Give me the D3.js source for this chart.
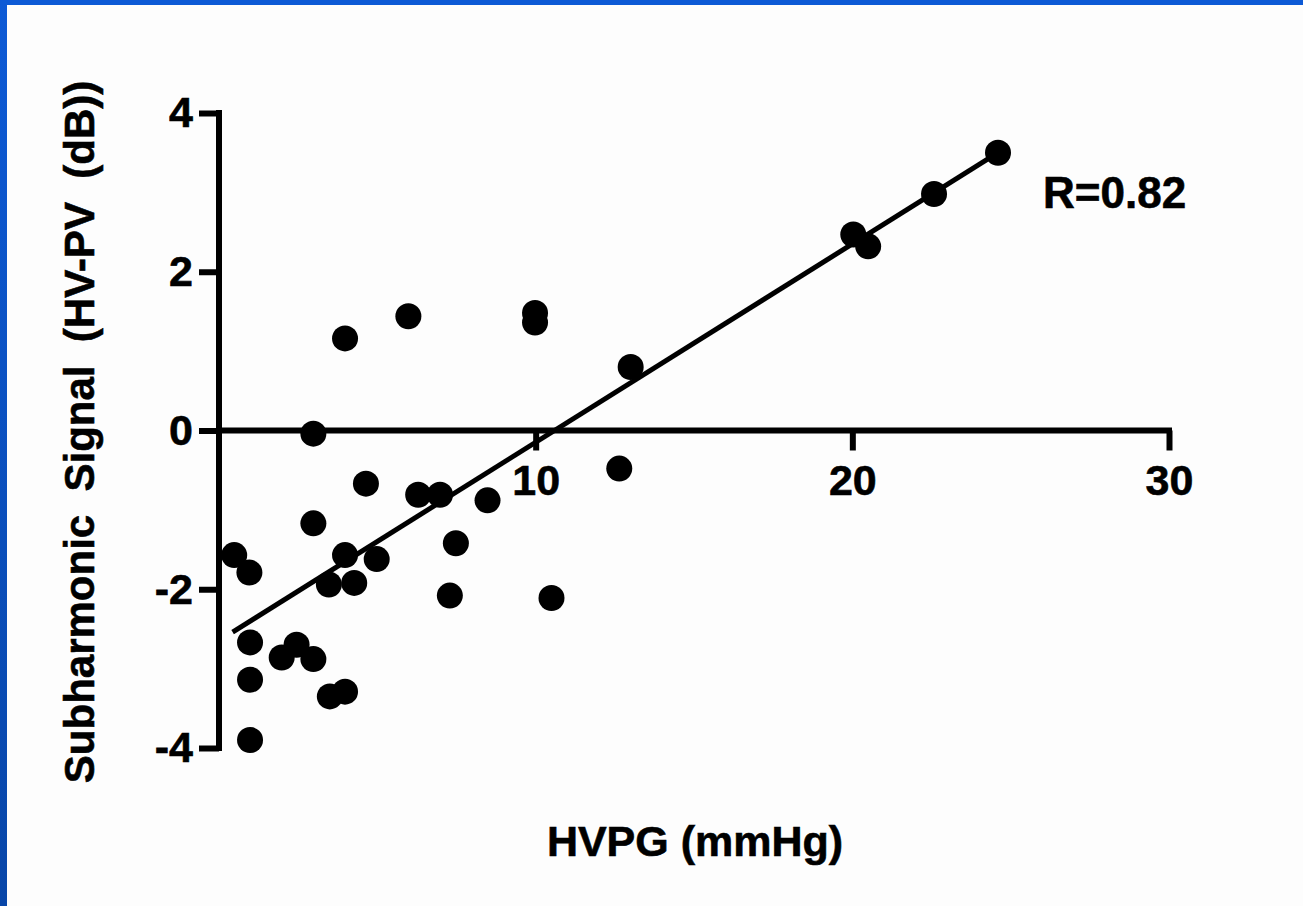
<!DOCTYPE html>
<html>
<head>
<meta charset="utf-8">
<script src="https://cdn.jsdelivr.net/npm/d3@7"></script>
<style>
  html, body { margin: 0; padding: 0; background: #fdfdfd; overflow: hidden; }
  svg { display: block; }
  text { font-family: "Liberation Sans", Arial, sans-serif; font-weight: bold; fill: #000; }
</style>
</head>
<body>
<svg id="chart" width="1303" height="906"></svg>
<script>
// ---- data ----
const hvpg = [0.48, 0.96, 0.98, 0.98, 0.98, 1.98, 2.45, 2.98, 2.98, 3.47, 3.5, 3.98, 3.98, 4.27, 4.64, 4.98,
              6.29, 6.98, 7.29, 7.48, 8.48, 10.5, 2.98, 3.98, 5.98, 9.98, 9.98, 13.0, 12.64, 24.6, 22.58, 20.03, 20.5];
const signal = [-1.57, -1.79, -2.67, -3.14, -3.90, -2.86, -2.70, -2.88, -1.17, -1.94, -3.35, -3.29, -1.57, -1.92, -0.67, -1.62,
                -0.81, -0.81, -2.08, -1.42, -0.88, -2.11, -0.04, 1.16, 1.44, 1.48, 1.36, 0.80, -0.48, 3.50, 2.98, 2.47, 2.32];
const fitX = [0.43, 24.6];
const fitY = [-2.54, 3.50];
const xTicks = [10, 20, 30];
const yTicks = [4, 2, 0, -2, -4];
const xTitle = "HVPG (mmHg)";
const yTitle = "Subharmonic  Signal  (HV-PV  (dB))";
const rLabel = "R=0.82";

const svg = d3.select("#chart");

// blue frame
const defs = svg.append("defs");
const grad = defs.append("linearGradient").attr("id", "leftGrad").attr("x1", 0).attr("y1", 0).attr("x2", 0).attr("y2", 1);
grad.append("stop").attr("offset", "0%").attr("stop-color", "#0d5ad6");
grad.append("stop").attr("offset", "100%").attr("stop-color", "#0846a8");
svg.append("rect").attr("x", 0).attr("y", 0).attr("width", 1303).attr("height", 906).attr("fill", "#fdfdfd");
svg.append("rect").attr("x", 0).attr("y", 0).attr("width", 1303).attr("height", 5).attr("fill", "#0d5ad6");
svg.append("rect").attr("x", 0).attr("y", 0).attr("width", 7).attr("height", 906).attr("fill", "url(#leftGrad)");

const x = d3.scaleLinear().domain([0, 30]).range([219, 1169]);
const y = d3.scaleLinear().domain([-4, 4]).range([748, 113]);

const axW = 6;
const textStroke = 0.6;

// y axis
const yAxis = d3.axisLeft(y).tickValues(yTicks).tickSize(20).tickPadding(6).tickFormat(d3.format("d"));
const gy = svg.append("g").attr("transform", `translate(${x(0)},0)`).call(yAxis);
gy.select(".domain").attr("d", `M0,${y(4)}V${y(-4)}`).attr("stroke", "#000").attr("stroke-width", axW).attr("stroke-linecap", "square");
gy.selectAll(".tick line").attr("stroke", "#000").attr("stroke-width", axW).attr("x2", -20);
gy.selectAll(".tick text").attr("font-size", 43).attr("font-weight", "bold").attr("font-family", "Liberation Sans, Arial, sans-serif")
  .attr("fill", "#000").attr("stroke", "#000").attr("stroke-width", textStroke)
  .text(d => d < 0 ? "-" + Math.abs(d) : d);

// x axis at y=0
const xAxis = d3.axisBottom(x).tickValues(xTicks).tickSize(20).tickPadding(14).tickFormat(d3.format("d"));
const gx = svg.append("g").attr("transform", `translate(0,${y(0)})`).call(xAxis);
gx.select(".domain").attr("d", `M${x(0)},0H${x(30)}`).attr("stroke", "#000").attr("stroke-width", axW).attr("stroke-linecap", "square");
gx.selectAll(".tick line").attr("stroke", "#000").attr("stroke-width", axW);
gx.selectAll(".tick text").attr("font-size", 43).attr("font-weight", "bold").attr("font-family", "Liberation Sans, Arial, sans-serif")
  .attr("fill", "#000").attr("stroke", "#000").attr("stroke-width", textStroke);

// fit line
svg.append("line")
  .attr("x1", x(fitX[0])).attr("y1", y(fitY[0]))
  .attr("x2", x(fitX[1])).attr("y2", y(fitY[1]))
  .attr("stroke", "#000").attr("stroke-width", 5);

// points
svg.append("g").selectAll("circle").data(hvpg.map((v, i) => [v, signal[i]])).join("circle")
  .attr("cx", d => x(d[0])).attr("cy", d => y(d[1])).attr("r", 13).attr("fill", "#000");

// labels
svg.append("text").attr("x", 1043).attr("y", 208).attr("font-size", 44)
  .attr("stroke", "#000").attr("stroke-width", textStroke).text(rLabel);
svg.append("text").attr("x", 695).attr("y", 856).attr("text-anchor", "middle").attr("font-size", 43)
  .attr("stroke", "#000").attr("stroke-width", textStroke).text(xTitle);
svg.append("text").attr("transform", "translate(94,432) rotate(-90)").attr("text-anchor", "middle")
  .attr("font-size", 42).attr("stroke", "#000").attr("stroke-width", textStroke)
  .attr("xml:space", "preserve").style("white-space", "pre").text(yTitle);
</script>
</body>
</html>
